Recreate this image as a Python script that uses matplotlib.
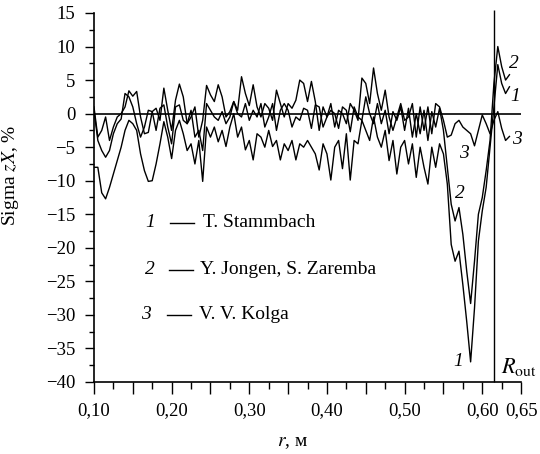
import numpy as np
import matplotlib
matplotlib.use("Agg")
import matplotlib.pyplot as plt
from matplotlib.ticker import MultipleLocator, FuncFormatter

plt.rcParams['font.family'] = ['Liberation Serif', 'DejaVu Serif']
plt.rcParams['mathtext.fontset'] = 'stix'

# radius grid, m
r = np.round(np.arange(0.100, 0.6351, 0.005), 3)

# 1 - T. Stammbach
s1 = [-8.0, -8.0, -11.8, -12.7, -11.0, -9.0, -7.0, -5.0, -2.5, -1.0,
      -1.5, -2.5, -6.0, -8.5, -10.1, -10.0, -7.5, -4.5, -1.2, -3.5,
      -6.7, -2.5, -1.0, -3.0, -5.5, -4.5, -7.5, -4.0, -10.1, -2.0,
      -3.5, -2.0, -4.2, -2.5, -4.9, -2.0, 0.0, -3.5, -2.0, -5.4,
      -4.0, -6.9, -3.0, -3.5, -5.0, -2.5, -4.9, -4.0, -6.9, -4.5,
      -5.5, -4.0, -6.9, -4.5, -5.0, -4.0, -5.0, -6.0, -8.4, -4.5,
      -6.0, -9.9, -5.0, -4.0, -8.2, -3.0, -9.9, -4.0, -4.5, -1.0,
      -2.5, -4.0, -0.5, -3.5, -5.0, -2.5, -7.0, -4.0, -9.0, -5.0,
      -4.0, -7.5, -4.5, -9.5, -5.0, -8.0, -10.5, -5.0, -8.0, -4.5,
      -6.0, -10.5, -19.5, -22.0, -20.5, -25.5, -31.0, -37.0, -29.0, -19.0,
      -14.5, -11.0, -5.0, 1.0, 7.3, 4.5, 3.0, 4.0]

# 2 - Y. Jongen, S. Zaremba
s2 = [0.5, -4.0, -5.5, -6.5, -5.5, -3.0, -1.5, -0.8, 3.0, 2.5,
      1.0, -1.5, -3.5, -2.0, 0.5, 0.3, -2.5, 0.8, 1.3, -2.0,
      -4.5, 1.0, 1.3, -1.0, -1.5, 0.5, -3.5, -2.5, -5.5, 1.5,
      0.5, -0.5, -1.0, 0.3, -1.5, -0.5, 1.8, 0.0, -0.5, 1.5,
      -1.0, 0.5, -0.5, 1.5, -2.0, -0.5, 1.5, -2.5, 0.5, 1.5,
      0.5, -2.0, -0.5, -1.0, 0.8, 0.5, -2.2, 1.3, 1.0, -2.0,
      -0.5, 0.5, 0.0, -2.2, 1.0, 0.5, -2.7, 1.0, -0.5, -1.0,
      2.5, 0.0, -1.5, 1.5, -1.5, 0.5, -3.0, 0.3, -1.0, 1.0,
      -2.5, 0.8, -3.5, 0.0, -3.0, 0.5, -4.0, 0.3, -2.0, 0.8,
      -2.5, -8.0, -13.5, -16.0, -14.0, -18.0, -23.5, -28.3, -22.0, -15.0,
      -12.5, -8.5, -4.0, 4.5, 10.0, 7.0, 5.0, 5.8]

# 3 - V. V. Kolga
s3 = [1.0, -3.5, -2.5, -0.5, -4.0, -2.0, -0.5, 0.0, 1.0, 3.4,
      2.6, 3.3, -0.5, -3.0, -2.8, 0.3, 0.8, -1.0, 3.8, 0.5,
      -2.5, 2.0, 4.4, 2.5, -1.5, -0.5, 1.0, -3.5, -1.0, 4.2,
      2.8, 1.8, 4.3, 2.5, -0.5, 0.3, 1.8, 0.5, 5.5, 3.0,
      1.2, 4.3, 1.0, -0.5, 1.5, 0.8, -1.0, 3.5, 1.5, -0.5,
      1.5, 0.8, 2.0, 5.0, 4.5, 1.8, 4.8, 1.8, -2.5, 1.0,
      -0.5, 1.5, -2.0, 0.5, 0.0, -1.5, 1.5, 0.5, -1.0, 5.3,
      4.5, 1.5, 6.8, 3.0, 0.5, 3.5, -0.5, -2.5, -0.5, 1.5,
      -1.0, -0.5, 1.5, -3.5, 1.0, -2.5, 1.0, -3.0, 1.5, 1.0,
      -1.0, -3.5, -3.2, -1.5, -1.0, -2.0, -2.5, -3.0, -4.8, -2.5,
      -0.2, -1.5, -3.0, -1.0, 0.3, -2.2, -4.0, -3.4]

r_out = 0.6155
legend_nums = ['1', '2', '3']
legend_names = ['T. Stammbach', 'Y. Jongen, S. Zaremba', 'V. V. Kolga']

fig = plt.figure(figsize=(5.4, 4.54), dpi=100)
ax = fig.add_axes([0.174, 0.1586, 0.791, 0.8128])

for s in (s1, s2, s3):
    ax.plot(r, s, color='black', lw=1.0)

ax.axhline(0, color='black', lw=1.2)
ax.vlines(r_out, -40, 15.5, color='black', lw=1.0, clip_on=False)

ax.set_xlim(0.10, 0.65)
ax.set_ylim(-40, 15)
for side in ('top', 'right'):
    ax.spines[side].set_visible(False)
for side in ('left', 'bottom'):
    ax.spines[side].set_linewidth(1.2)

ax.xaxis.set_major_locator(MultipleLocator(0.05))
ax.xaxis.set_minor_locator(MultipleLocator(0.025))
ax.yaxis.set_major_locator(MultipleLocator(5))
ax.yaxis.set_minor_locator(MultipleLocator(2.5))


def xfmt(v, pos):
    k = int(round(v * 100))
    if k % 10 == 0 or k == 65:
        return f"{v:.2f}".replace('.', ',')
    return ''


def yfmt(v, pos):
    return f"{int(round(v))}".replace('-', '\u2212')


ax.xaxis.set_major_formatter(FuncFormatter(xfmt))
ax.yaxis.set_major_formatter(FuncFormatter(yfmt))
ax.tick_params(axis='x', which='major', length=8.5, width=1.0, labelsize=13.5, pad=6)
ax.tick_params(axis='x', which='minor', length=5, width=1.0)
ax.tick_params(axis='y', which='major', length=6.5, width=1.0, labelsize=13.5, pad=7)
ax.tick_params(axis='y', which='minor', length=3.6, width=1.0)

ax.set_ylabel('Sigma $zX$, %', fontsize=14)
ax.yaxis.set_label_coords(-0.171, 0.56)
ax.set_xlabel('$r$, м', fontsize=14)
ax.xaxis.set_label_coords(0.466, -0.141)

# legend-like annotation
rows_y = [-16.3, -23.3, -30.0]
num_x = [0.1786, 0.1786, 0.1735]
line_x = [(0.1979, 0.2289), (0.1966, 0.2276), (0.1941, 0.2250)]
text_x = [0.2405, 0.2366, 0.2353]
for n, name, yy, nx, (l0, l1), tx in zip(legend_nums, legend_names, rows_y, num_x, line_x, text_x):
    ax.text(nx, yy, n, style='italic', fontsize=14, ha='right', va='center')
    ax.plot([l0, l1], [yy, yy], color='black', lw=1.0)
    ax.text(tx, yy, name, fontsize=14, ha='left', va='center')

# curve labels
ax.text(0.6404, 7.5, '2', style='italic', fontsize=14, ha='center', va='center')
ax.text(0.6426, 2.5, '1', style='italic', fontsize=14, ha='center', va='center')
ax.text(0.6447, -3.9, '3', style='italic', fontsize=14, ha='center', va='center')
ax.text(0.576, -5.9, '3', style='italic', fontsize=14, ha='center', va='center')
ax.text(0.5717, -11.9, '2', style='italic', fontsize=14, ha='center', va='center')
ax.text(0.569, -37.0, '1', style='italic', fontsize=14, ha='center', va='center')
ax.text(0.624, -37.7, r'$R_{\mathrm{out}}$', fontsize=16, ha='left', va='center')

fig.savefig('out.png', dpi=100)
